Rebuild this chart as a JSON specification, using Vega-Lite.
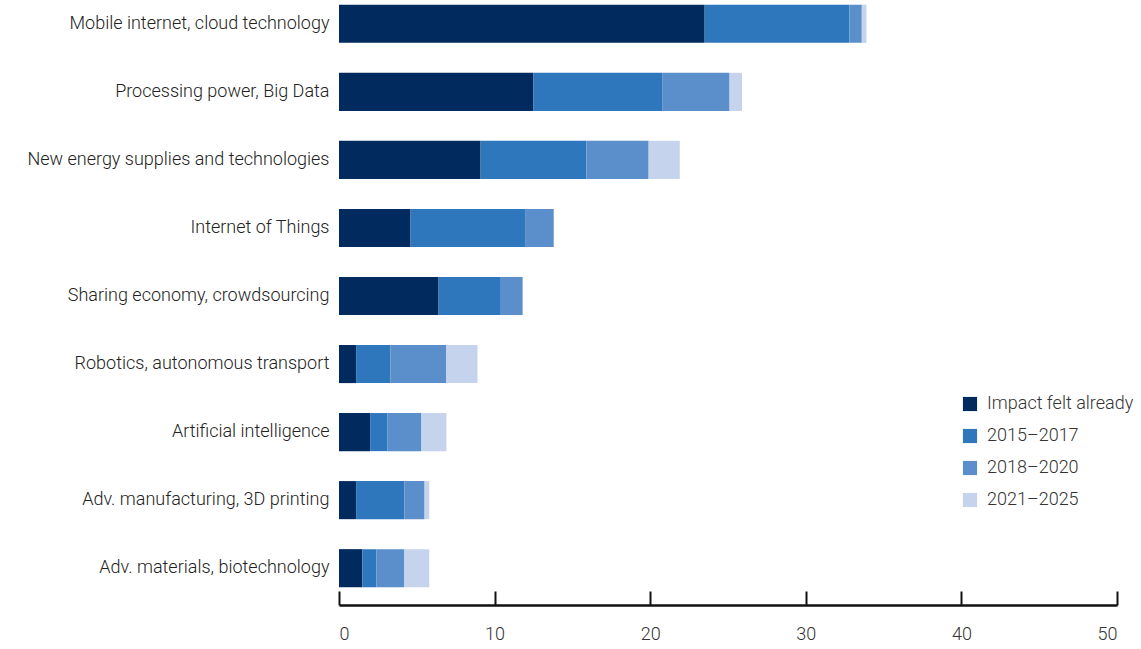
{
  "$schema": "https://vega.github.io/schema/vega-lite/v6.json",
  "width": 778,
  "height": 592,
  "autosize": "none",
  "padding": {"left": 339, "top": 0, "right": 24, "bottom": 57},
  "background": "white",
  "config": {"view": {"stroke": null}, "font": "Roboto"},
  "data": {
    "values": [
      {"tech": "Mobile internet, cloud technology", "period": "Impact felt already", "k": 1, "v": 23.5},
      {"tech": "Mobile internet, cloud technology", "period": "2015–2017", "k": 2, "v": 9.3},
      {"tech": "Mobile internet, cloud technology", "period": "2018–2020", "k": 3, "v": 0.8},
      {"tech": "Mobile internet, cloud technology", "period": "2021–2025", "k": 4, "v": 0.3},
      {"tech": "Processing power, Big Data", "period": "Impact felt already", "k": 1, "v": 12.5},
      {"tech": "Processing power, Big Data", "period": "2015–2017", "k": 2, "v": 8.3},
      {"tech": "Processing power, Big Data", "period": "2018–2020", "k": 3, "v": 4.3},
      {"tech": "Processing power, Big Data", "period": "2021–2025", "k": 4, "v": 0.8},
      {"tech": "New energy supplies and technologies", "period": "Impact felt already", "k": 1, "v": 9.1},
      {"tech": "New energy supplies and technologies", "period": "2015–2017", "k": 2, "v": 6.8},
      {"tech": "New energy supplies and technologies", "period": "2018–2020", "k": 3, "v": 4.0},
      {"tech": "New energy supplies and technologies", "period": "2021–2025", "k": 4, "v": 2.0},
      {"tech": "Internet of Things", "period": "Impact felt already", "k": 1, "v": 4.6},
      {"tech": "Internet of Things", "period": "2015–2017", "k": 2, "v": 7.4},
      {"tech": "Internet of Things", "period": "2018–2020", "k": 3, "v": 1.8},
      {"tech": "Internet of Things", "period": "2021–2025", "k": 4, "v": 0},
      {"tech": "Sharing economy, crowdsourcing", "period": "Impact felt already", "k": 1, "v": 6.4},
      {"tech": "Sharing economy, crowdsourcing", "period": "2015–2017", "k": 2, "v": 4.0},
      {"tech": "Sharing economy, crowdsourcing", "period": "2018–2020", "k": 3, "v": 1.4},
      {"tech": "Sharing economy, crowdsourcing", "period": "2021–2025", "k": 4, "v": 0},
      {"tech": "Robotics, autonomous transport", "period": "Impact felt already", "k": 1, "v": 1.1},
      {"tech": "Robotics, autonomous transport", "period": "2015–2017", "k": 2, "v": 2.2},
      {"tech": "Robotics, autonomous transport", "period": "2018–2020", "k": 3, "v": 3.6},
      {"tech": "Robotics, autonomous transport", "period": "2021–2025", "k": 4, "v": 2.0},
      {"tech": "Artificial intelligence", "period": "Impact felt already", "k": 1, "v": 2.0},
      {"tech": "Artificial intelligence", "period": "2015–2017", "k": 2, "v": 1.1},
      {"tech": "Artificial intelligence", "period": "2018–2020", "k": 3, "v": 2.2},
      {"tech": "Artificial intelligence", "period": "2021–2025", "k": 4, "v": 1.6},
      {"tech": "Adv. manufacturing, 3D printing", "period": "Impact felt already", "k": 1, "v": 1.1},
      {"tech": "Adv. manufacturing, 3D printing", "period": "2015–2017", "k": 2, "v": 3.1},
      {"tech": "Adv. manufacturing, 3D printing", "period": "2018–2020", "k": 3, "v": 1.3},
      {"tech": "Adv. manufacturing, 3D printing", "period": "2021–2025", "k": 4, "v": 0.3},
      {"tech": "Adv. materials, biotechnology", "period": "Impact felt already", "k": 1, "v": 1.5},
      {"tech": "Adv. materials, biotechnology", "period": "2015–2017", "k": 2, "v": 0.9},
      {"tech": "Adv. materials, biotechnology", "period": "2018–2020", "k": 3, "v": 1.8},
      {"tech": "Adv. materials, biotechnology", "period": "2021–2025", "k": 4, "v": 1.6}
    ]
  },
  "mark": {"type": "bar"},
  "encoding": {
    "y": {
      "field": "tech",
      "type": "nominal",
      "sort": null,
      "title": null,
      "scale": {"paddingInner": 0.44, "paddingOuter": 0.07},
      "axis": {"domain": false, "ticks": false, "labelFontSize": 18, "labelColor": "#222", "labelPadding": 10, "labelLimit": 340, "labelFont": "Roboto", "labelFontWeight": 300}
    },
    "x": {
      "field": "v",
      "type": "quantitative",
      "stack": "zero",
      "title": null,
      "scale": {"domain": [0, 50], "nice": false},
      "axis": {"values": [0, 10, 20, 30, 40, 50], "grid": false, "domainColor": "#111", "domainWidth": 2.5, "tickColor": "#111", "tickWidth": 2, "tickSize": -14, "offset": 13, "labelPadding": 34, "labelFontSize": 18, "labelColor": "#333", "labelFont": "Roboto", "labelFontWeight": 300}
    },
    "color": {
      "field": "period",
      "type": "nominal",
      "sort": ["Impact felt already", "2015–2017", "2018–2020", "2021–2025"],
      "scale": {"domain": ["Impact felt already", "2015–2017", "2018–2020", "2021–2025"], "range": ["#012a5e", "#2f77bc", "#5a8fcb", "#c5d3ed"]},
      "legend": {"title": null, "orient": "none", "legendX": 622, "legendY": 395, "symbolType": "square", "symbolSize": 200, "symbolStrokeWidth": 0, "labelFontSize": 18, "labelColor": "#333", "rowPadding": 14, "labelFont": "Roboto", "labelFontWeight": 300, "labelOffset": 8}
    },
    "order": {"field": "k", "type": "quantitative"}
  }
}
